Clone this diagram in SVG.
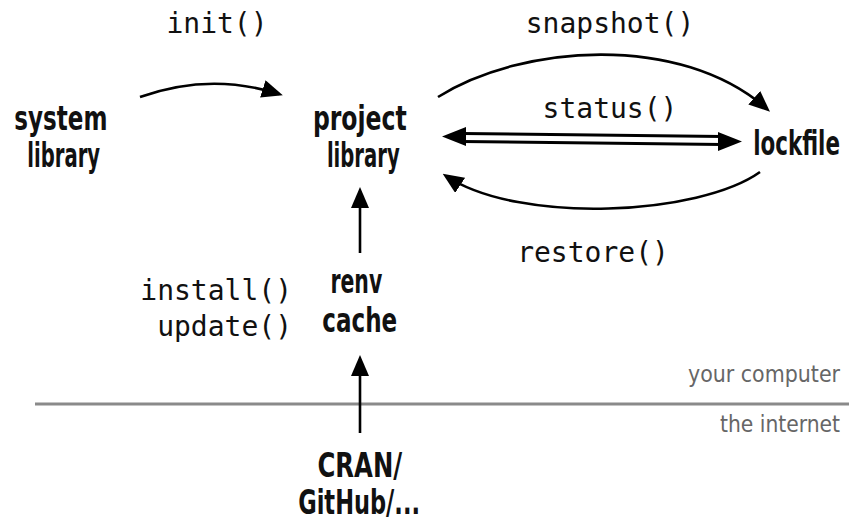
<svg xmlns="http://www.w3.org/2000/svg" width="849" height="522" viewBox="0 0 849 522">
<style>
.node{font-family:"DejaVu Sans Condensed","DejaVu Sans","Liberation Sans",sans-serif;font-stretch:condensed;font-weight:bold;font-size:34px;fill:#111}
.code{font-family:"DejaVu Sans Mono","Liberation Mono",monospace;font-size:28px;fill:#111}
.zone{font-family:"DejaVu Sans Condensed","DejaVu Sans","Liberation Sans",sans-serif;font-stretch:condensed;font-size:23px;fill:#666}
.arc{fill:none;stroke:#000;stroke-width:2.6}
</style>
<defs>
<marker id="head" markerUnits="userSpaceOnUse" viewBox="0 0 21 18" refX="17" refY="9" markerWidth="21" markerHeight="18" orient="auto">
<path d="M0,0 L21,9 L0,18 z" fill="#000"/>
</marker>
</defs>
<rect width="849" height="522" fill="#fff"/>
<g id="divider">
<line x1="35" y1="404" x2="849" y2="404" stroke="#8a8a8a" stroke-width="3"/>
<text class="zone" x="840" y="382" text-anchor="end" textLength="152" lengthAdjust="spacingAndGlyphs">your computer</text>
<text class="zone" x="840" y="432" text-anchor="end" textLength="120" lengthAdjust="spacingAndGlyphs">the internet</text>
</g>
<g id="connectors">
<path class="arc" d="M140,97 Q210,72 279,94" marker-end="url(#head)"/>
<text class="code" x="217" y="33" text-anchor="middle">init()</text>
<path class="arc" d="M438,97 C520,45 680,32 767,109" marker-end="url(#head)"/>
<text class="code" x="610" y="33" text-anchor="middle">snapshot()</text>
<path class="arc" d="M760,172 C700,215 520,225 446,176" marker-end="url(#head)"/>
<text class="code" x="593" y="262" text-anchor="middle">restore()</text>
<g id="status-arrow">
<line x1="462" y1="137.5" x2="722" y2="140.6" stroke="#000" stroke-width="11"/>
<line x1="462" y1="137.5" x2="722" y2="140.6" stroke="#fff" stroke-width="5"/>
<polygon points="442,136.5 466,127 466,146" fill="#000"/>
<polygon points="742,141.5 718,132 718,151" fill="#000"/>
</g>
<text class="code" x="610" y="118" text-anchor="middle">status()</text>
<line class="arc" x1="360" y1="253" x2="360" y2="191" marker-end="url(#head)"/>
<line class="arc" x1="360" y1="433" x2="360" y2="359" marker-end="url(#head)"/>
<text class="code" x="292" y="300" text-anchor="end">install()</text>
<text class="code" x="292" y="336" text-anchor="end">update()</text>
</g>
<g id="system-library">
<text class="node" transform="scale(0.7,1)" text-anchor="middle"><tspan x="87" y="130" textLength="133" lengthAdjust="spacingAndGlyphs">system</tspan><tspan x="91" y="167" textLength="104" lengthAdjust="spacingAndGlyphs">library</tspan></text>
</g>
<g id="project-library">
<text class="node" transform="scale(0.7,1)" text-anchor="middle"><tspan x="514" y="130" textLength="134" lengthAdjust="spacingAndGlyphs">project</tspan><tspan x="519" y="167" textLength="104" lengthAdjust="spacingAndGlyphs">library</tspan></text>
</g>
<g id="lockfile">
<text class="node" transform="scale(0.7,1)" x="1138" y="155" text-anchor="middle" textLength="124" lengthAdjust="spacingAndGlyphs">lockfile</text>
</g>
<g id="renv-cache">
<text class="node" transform="scale(0.7,1)" text-anchor="middle"><tspan x="509" y="293" textLength="74" lengthAdjust="spacingAndGlyphs">renv</tspan><tspan x="514" y="332" textLength="107" lengthAdjust="spacingAndGlyphs">cache</tspan></text>
</g>
<g id="cran-github">
<text class="node" transform="scale(0.7,1)" text-anchor="middle"><tspan x="514" y="477" textLength="121" lengthAdjust="spacingAndGlyphs">CRAN/</tspan><tspan x="513" y="514" textLength="174" lengthAdjust="spacingAndGlyphs">GitHub/...</tspan></text>
</g>
</svg>
